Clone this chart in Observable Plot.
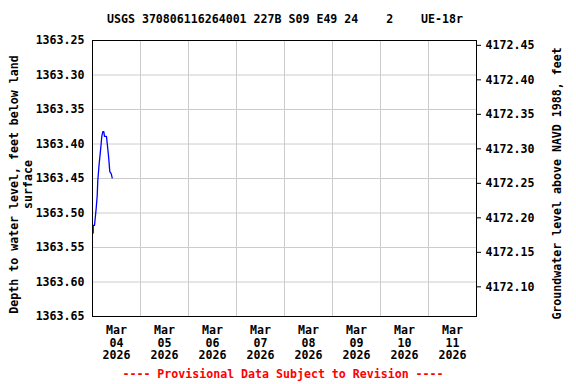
<!DOCTYPE html>
<html><head><meta charset="utf-8">
<script src="https://cdn.jsdelivr.net/npm/d3@7"></script>
<script src="https://cdn.jsdelivr.net/npm/@observablehq/plot@0.6"></script>
<style>
body{margin:0;background:#fff;}
#wrap{width:576px;height:384px;font-family:"DejaVu Sans Mono",monospace;font-weight:bold;font-size:11.6px;color:#000;}
#title{height:30px;box-sizing:border-box;padding-top:12px;line-height:14px;text-align:center;white-space:pre;width:570px;}
#chart{height:334px;}
#foot{height:20px;line-height:20px;text-align:center;color:#ff0000;white-space:pre;width:566px;}
</style></head><body>
<div id="wrap"><div id="title"></div><div id="chart"></div><div id="foot"></div></div>
<script>
const titleText = "USGS 370806116264001 227B S09 E49 24    2    UE-18r";
const footText = "---- Provisional Data Subject to Revision ----";
const leftLabel = "Depth to water level, feet below land\nsurface";
const rightLabel = "Groundwater level above NAVD 1988, feet";

// observations (UTC time, depth below land surface, ft)
const times = ["2026-03-04T00:21Z","2026-03-04T00:22Z","2026-03-04T01:00Z","2026-03-04T01:21Z","2026-03-04T01:51Z",
  "2026-03-04T02:21Z","2026-03-04T02:39Z","2026-03-04T03:21Z","2026-03-04T03:51Z","2026-03-04T04:21Z",
  "2026-03-04T04:39Z","2026-03-04T05:09Z","2026-03-04T05:39Z","2026-03-04T06:00Z","2026-03-04T07:00Z",
  "2026-03-04T07:21Z","2026-03-04T08:00Z","2026-03-04T08:39Z","2026-03-04T09:21Z","2026-03-04T09:51Z"];
const depths = [1363.529,1363.518,1363.518,1363.508,1363.493,
  1363.475,1363.453,1363.428,1363.414,1363.399,
  1363.389,1363.382,1363.382,1363.389,1363.389,
  1363.399,1363.417,1363.440,1363.443,1363.449];

const depthTicks = [1363.25,1363.30,1363.35,1363.40,1363.45,1363.50,1363.55,1363.60,1363.65];
const elevTicks = [4172.10,4172.15,4172.20,4172.25,4172.30,4172.35,4172.40,4172.45];
const datumSum = 5535.707; // depth + elevation
const xDomain = ["2026-03-04T00:00Z","2026-03-12T00:00Z"];
const dayLabels = ["2026-03-04","2026-03-05","2026-03-06","2026-03-07","2026-03-08","2026-03-09","2026-03-10","2026-03-11"];
const dayBounds = ["2026-03-05","2026-03-06","2026-03-07","2026-03-08","2026-03-09","2026-03-10","2026-03-11"];

document.getElementById("title").textContent = titleText;
document.getElementById("foot").textContent = footText;

const data = times.map((t, i) => ({date: new Date(t), depth: depths[i]}));
const noons = dayLabels.map(d => new Date(d + "T12:00Z"));
const mids = dayBounds.map(d => new Date(d + "T00:00Z"));
const rightTickDepths = elevTicks.map(e => datumSum - e);
const fmt = d3.utcFormat("%b\n%d\n%Y");

const chart = Plot.plot({
  width: 576, height: 334,
  marginTop: 10, marginBottom: 48, marginLeft: 92, marginRight: 100,
  style: {fontFamily: "'DejaVu Sans Mono', monospace", fontSize: "11.6px", fontWeight: "bold", background: "#fff", color: "#000"},
  x: {type: "utc", domain: xDomain.map(d => new Date(d))},
  y: {domain: [depthTicks[0], depthTicks[depthTicks.length - 1]], reverse: true},
  marks: [
    Plot.gridX(mids, {stroke: "#cccccc", strokeOpacity: 1}),
    Plot.gridY(depthTicks.slice(1, -1), {stroke: "#cccccc", strokeOpacity: 1}),
    Plot.axisX(noons, {tickSize: 0, tickPadding: 9, tickFormat: d => fmt(d), lineHeight: 1.08, label: null}),
    Plot.axisY(depthTicks, {anchor: "left", tickSize: 0, tickPadding: 8, tickFormat: d => d.toFixed(2), label: null}),
    Plot.axisY(rightTickDepths, {anchor: "right", tickSize: 4, tickPadding: 5, tickFormat: d => (datumSum - d).toFixed(2), label: null}),
    Plot.line(data, {x: "date", y: "depth", stroke: "#0000ff", strokeWidth: 1.3}),
    Plot.frame({stroke: "#000"}),
    Plot.text([leftLabel], {text: d => d, frameAnchor: "left", textAnchor: "middle", lineAnchor: "middle", dx: -72, dy: 6, rotate: -90, lineHeight: 1.2, fill: "#000"}),
    Plot.text([rightLabel], {text: d => d, frameAnchor: "right", textAnchor: "middle", lineAnchor: "middle", dx: 81, dy: 5, rotate: -90, fill: "#000"})
  ]
});
document.getElementById("chart").appendChild(chart);
</script>
</body></html>
